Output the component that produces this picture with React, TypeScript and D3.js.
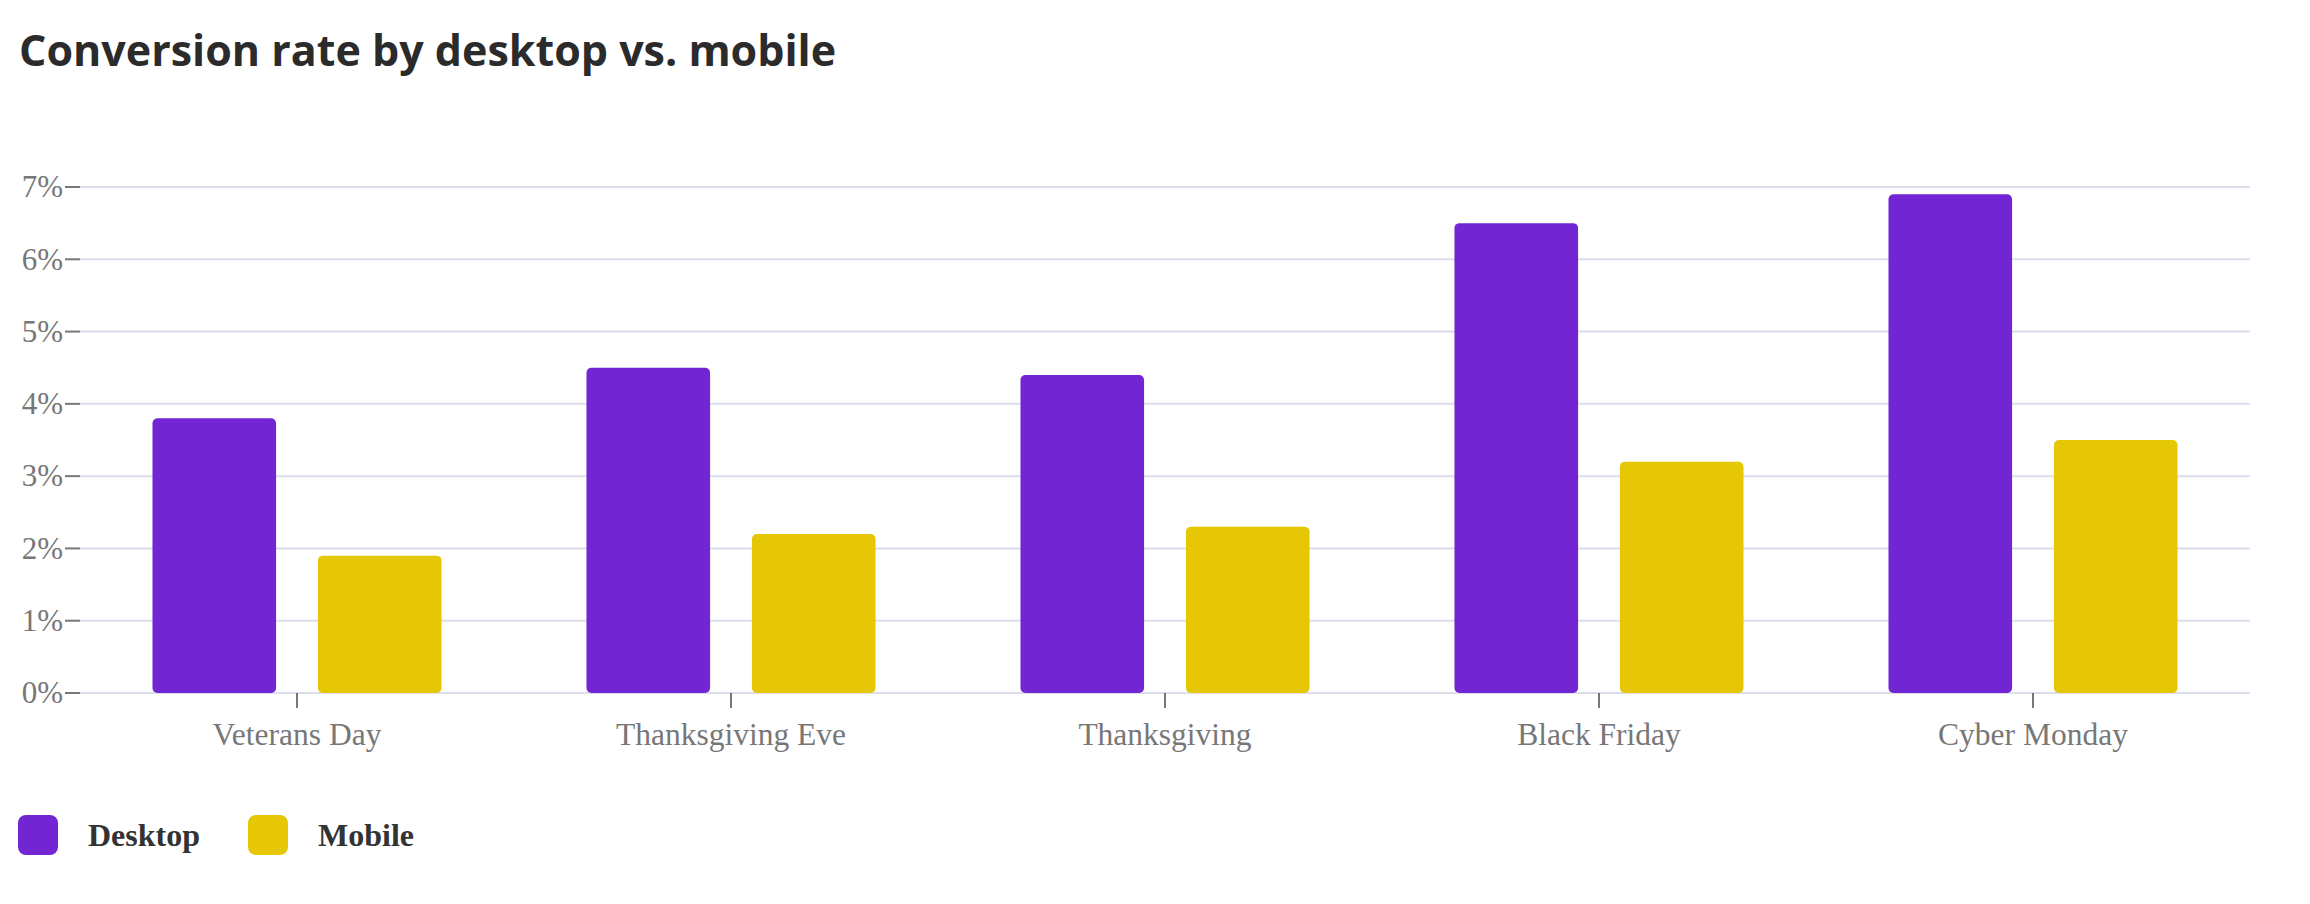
import React, { useEffect } from "react";
import * as d3 from "d3";

const categories = ["Veterans Day", "Thanksgiving Eve", "Thanksgiving", "Black Friday", "Cyber Monday"];
const seriesNames = ["Desktop", "Mobile"];
const desktopValues = [3.8, 4.5, 4.4, 6.5, 6.9];
const mobileValues = [1.9, 2.2, 2.3, 3.2, 3.5];
const yTicks = [0, 1, 2, 3, 4, 5, 6, 7];
const seriesColors = ["#7226D3", "#E5C705"];
const titleText = "Conversion rate by desktop vs. mobile";

const W = 2310;
const H = 904;
const plotLeft = 80;
const plotRight = 2250;
const plotTop = 187;
const plotBottom = 693;

export default function App() {
  useEffect(() => {
    document.body.style.margin = "0";
  }, []);

  const x0 = d3.scaleBand<string>().domain(categories).range([plotLeft, plotRight]).paddingInner(0.334).paddingOuter(0.167);
  const x1 = d3.scaleBand<string>().domain(seriesNames).range([0, x0.bandwidth()]).paddingInner(0.253).paddingOuter(0);
  const y = d3.scaleLinear().domain([0, 7]).range([plotBottom, plotTop]);
  const values = [desktopValues, mobileValues];
  const serif = "'Liberation Serif', 'Times New Roman', serif";

  return (
    <div style={{ position: "absolute", left: 0, top: 0 }}>
      <svg width={W} height={H} viewBox={`0 0 ${W} ${H}`} style={{ display: "block", background: "#fff" }}>
        <text x={19} y={66} fontFamily="'Open Sans', sans-serif" fontWeight={700} fontSize={43} fill="#2b2b2b">
          {titleText}
        </text>
        {yTicks.map((t) => (
          <g key={t}>
            <line x1={plotLeft} x2={plotRight} y1={y(t)} y2={y(t)} stroke="#dcdeec" strokeWidth={2} />
            <line x1={65} x2={plotLeft} y1={y(t)} y2={y(t)} stroke="#777" strokeWidth={2} />
            <text x={63} y={y(t)} dy="0.33em" textAnchor="end" fontFamily={serif} fontSize={31} fill="#777">
              {`${t}%`}
            </text>
          </g>
        ))}
        {categories.map((c, i) => (
          <g key={c} transform={`translate(${x0(c)},0)`}>
            {seriesNames.map((s, j) => (
              <rect
                key={s}
                x={x1(s)}
                y={y(values[j][i])}
                width={x1.bandwidth()}
                height={y(0) - y(values[j][i])}
                rx={5}
                ry={5}
                fill={seriesColors[j]}
              />
            ))}
          </g>
        ))}
        {categories.map((c) => {
          const cx = (x0(c) as number) + x0.bandwidth() / 2;
          return (
            <g key={c}>
              <line x1={cx} x2={cx} y1={plotBottom} y2={plotBottom + 15} stroke="#777" strokeWidth={2} />
              <text x={cx} y={745} textAnchor="middle" fontFamily={serif} fontSize={31.5} fill="#777">
                {c}
              </text>
            </g>
          );
        })}
        {seriesNames.map((s, j) => {
          const lx = j === 0 ? 18 : 248;
          return (
            <g key={s}>
              <rect x={lx} y={815} width={40} height={40} rx={8} ry={8} fill={seriesColors[j]} />
              <text x={lx + 70} y={846} fontFamily={serif} fontWeight={700} fontSize={32} fill="#333">
                {s}
              </text>
            </g>
          );
        })}
      </svg>
    </div>
  );
}
